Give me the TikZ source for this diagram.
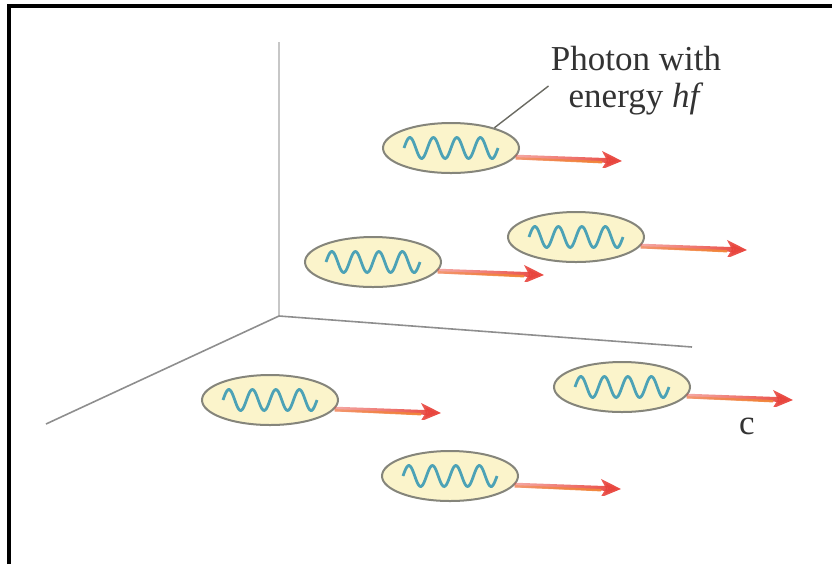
\documentclass[tikz,border=0pt]{standalone}
\usepackage{fontspec}
\setmainfont{Liberation Serif}
\usetikzlibrary{arrows.meta,shapes.geometric,fadings}

\definecolor{photonfill}{HTML}{FBF4CB}
\definecolor{photonedge}{HTML}{85857B}
\definecolor{wavecol}{HTML}{4CA2B6}
\definecolor{beamred}{HTML}{E8443C}
\definecolor{beamorange}{HTML}{F2863A}
\definecolor{axiscol}{HTML}{8E8E8E}

\tikzfading[name=beamfade, left color=transparent!55, middle color=transparent!0, right color=transparent!0]

\begin{document}
\begin{tikzpicture}[x=0.5pt, y=-0.5pt,
  photon/.style={ellipse, draw=photonedge, line width=1pt, fill=photonfill,
    minimum width=68pt, minimum height=25pt, inner sep=0pt},
  wave/.style={wavecol, line width=1.4pt},
  beam/.style={beamred, line width=2.4pt,
    -{Stealth[length=10pt,width=9pt,inset=2.5pt]}, path fading=beamfade},
  beamlow/.style={beamorange, line width=1.2pt, path fading=beamfade},
  axis/.style={axiscol, line width=0.8pt},
  lbl/.style={font=\fontsize{17.5}{18.5}\selectfont, text=black!80}]

\useasboundingbox (0,0) rectangle (832,564);
\draw[line width=2pt] (9,564) -- (9,6) -- (832,6);

% axes
\coordinate (o) at (279,316);
\coordinate (zt) at (279,42);
\coordinate (xe) at (692,347);
\coordinate (ye) at (46,424);
\draw[axis, color=black!22] (o) -- (zt);
\draw[axis] (o) -- (xe);
\draw[axis] (o) -- (ye);

% photons: four periods of the wave across each blob
\foreach \n/\px/\py in {1/451/148, 2/373/262, 3/576/237, 4/270/400, 5/622/387, 6/450/476}{
  \node[photon] (p\n) at (\px,\py) {};
  \draw[wave, shift={(\px,\py)}] plot[domain=-47:47, samples=90, smooth]
    (\x, {-10.5*sin((\x+47)*15.319)});
  \coordinate (t\n) at ({\px+171},{\py+13});
  \draw[beam] (p\n.-8) -- (t\n);
  \draw[beamlow] ([yshift=-0.6pt]p\n.-8) -- ([yshift=-0.6pt,xshift=-10pt]t\n);
}

\node[lbl, align=center, inner sep=1pt] (en) at (636,81) {Photon with\\energy \textit{hf}};
\draw[photonedge!80!black, line width=0.7pt] (p1.25) -- ([yshift=-2.5pt]en.west);
\node[lbl] (c) at (747,426) {c};
\end{tikzpicture}
\end{document}
